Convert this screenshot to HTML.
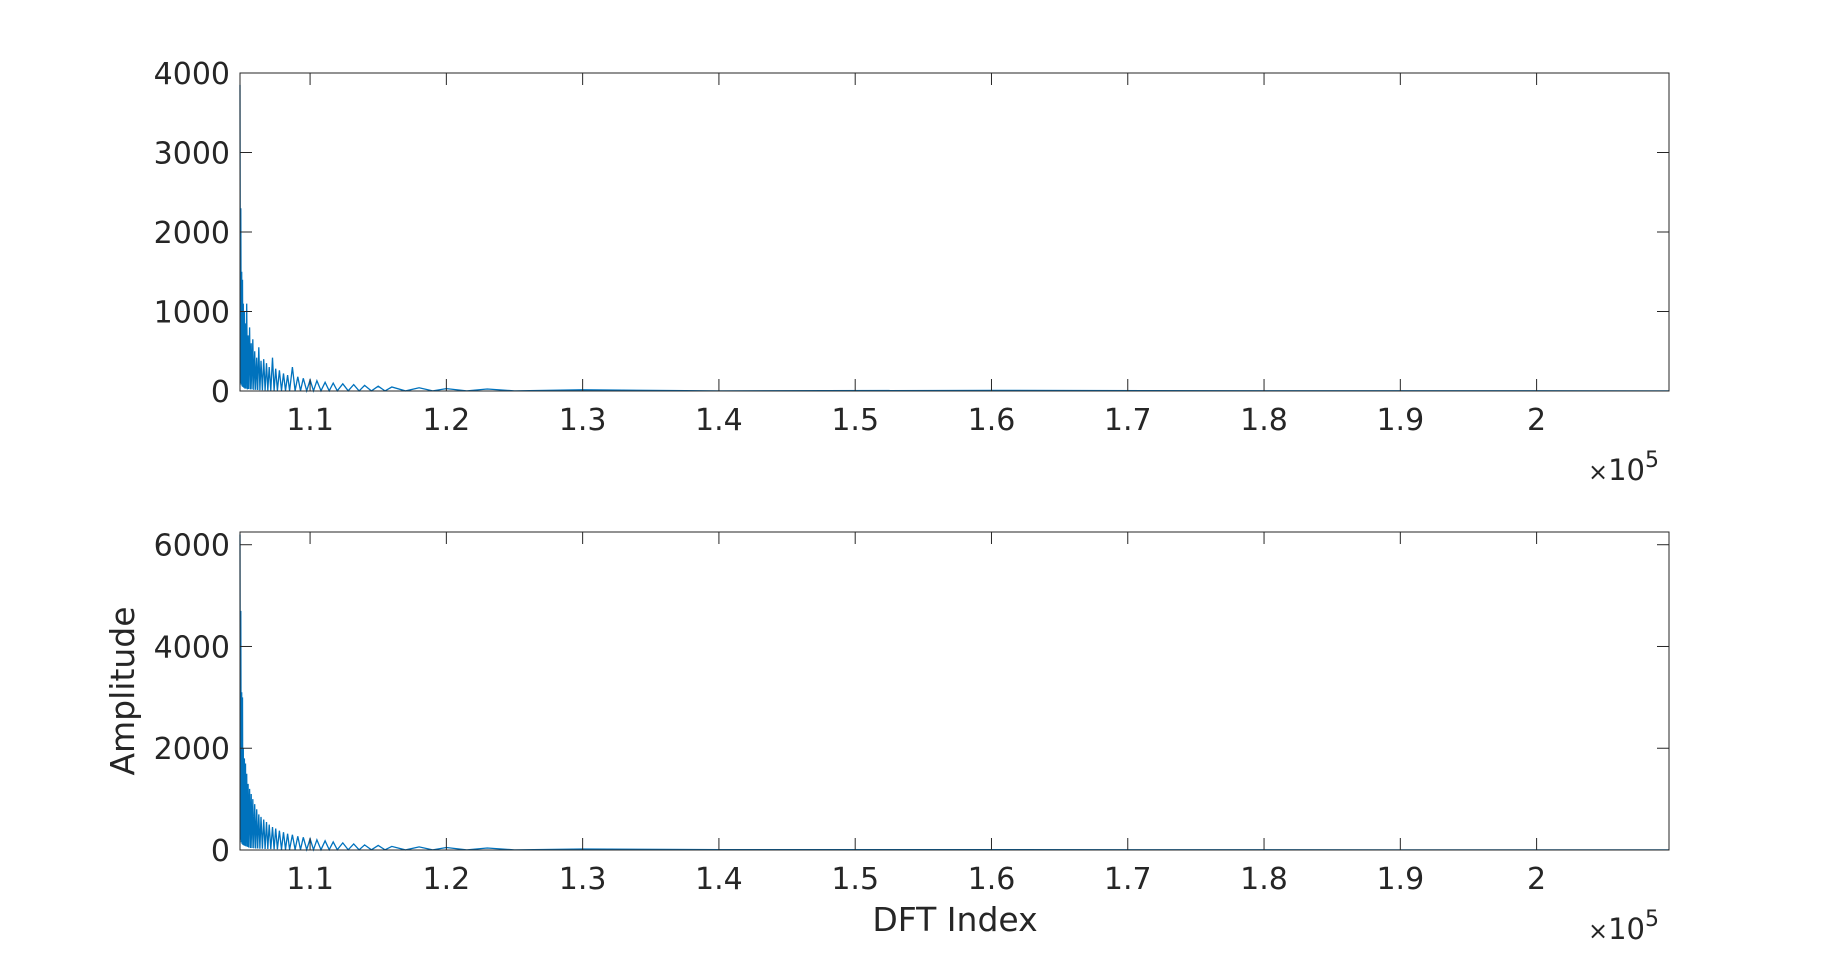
<!DOCTYPE html>
<html><head><meta charset="utf-8"><title>DFT Amplitude</title>
<style>
body{margin:0;background:#fff;}
svg{display:block;font-family:"DejaVu Sans","Liberation Sans",sans-serif;}
</style></head>
<body>
<svg id="chart" width="1845" height="968" viewBox="0 0 1845 968" xmlns="http://www.w3.org/2000/svg"></svg>
<script>
// ---- data (x in DFT index units) ----
const xTicks = [1.1e5,1.2e5,1.3e5,1.4e5,1.5e5,1.6e5,1.7e5,1.8e5,1.9e5,2.0e5];
const xTickLabels = ["1.1","1.2","1.3","1.4","1.5","1.6","1.7","1.8","1.9","2"];
const topYTicks = [0,1000,2000,3000,4000];
const botYTicks = [0,2000,4000,6000];
const dftIndex = [104858,104890,104920,104950,104980,105010,105040,105070,105100,105140,105180,105220,105260,105300,105350,105400,105450,105500,105560,105620,105680,105740,105800,105870,105940,106010,106080,106160,106240,106320,106400,106500,106600,106700,106800,106900,107000,107120,107240,107360,107480,107600,107750,107900,108050,108200,108350,108500,108700,108900,109100,109300,109500,109750,110000,110250,110500,110800,111100,111400,111700,112000,112400,112800,113200,113600,114000,114500,115000,115500,116000,117000,118000,119000,120000,121500,123000,125000,130000,140000,160000,180000,200000,209715];
const topAmp = [3850,100,2300,80,1500,60,1400,50,1100,40,1000,30,850,30,1100,20,700,25,800,20,600,20,650,15,500,15,420,12,550,10,380,10,400,8,350,8,300,6,420,6,280,5,260,5,220,4,200,4,300,3,180,3,160,3,140,2,130,2,110,2,100,2,90,2,80,1,70,1,60,1,50,1,40,1,30,1,25,1,15,1,8,3,2,1];
const botAmp = [6200,200,4700,150,3100,120,3000,100,2000,90,1800,80,1700,70,1500,60,1300,50,1200,40,1100,40,1000,35,900,30,800,30,700,25,650,25,600,20,550,20,500,18,450,15,420,15,380,12,350,12,320,10,300,10,270,8,250,8,220,6,200,6,180,5,160,5,140,4,120,4,100,3,90,3,70,2,60,2,50,2,40,1,20,8,5,3,2,1];

const NS="http://www.w3.org/2000/svg";
const svg=document.getElementById('chart');
const X0=240,X1=1669,xmin=104858,xmax=209715;
const xs=v=>X0+(v-xmin)/(xmax-xmin)*(X1-X0);
function el(t,a,p){const e=document.createElementNS(NS,t);for(const k in a)e.setAttribute(k,a[k]);(p||svg).appendChild(e);return e;}

function panel(name,top,bot,ymax,yTicks,amp){
  const ys=v=>bot-(v/ymax)*(bot-top);
  const g=el('g',{});
  
  
  const pts=dftIndex.map((d,i)=>xs(d).toFixed(1)+','+ys(amp[i]).toFixed(1)).join(' ');
  const line=el('polyline',{points:pts,fill:'none',stroke:'#0072BD','stroke-width':1.3},g);
  
  
  const box=el('rect',{x:X0,y:top,width:X1-X0,height:bot-top,fill:'none',stroke:'#262626','stroke-width':1},g);
  
  
  xTicks.forEach((t,i)=>{
    const x=xs(t);
    el('line',{x1:x,y1:bot,x2:x,y2:bot-12,stroke:'#262626'},g);
    el('line',{x1:x,y1:top,x2:x,y2:top+12,stroke:'#262626'},g);
    const tx=el('text',{x:x,y:bot+39,'text-anchor':'middle','font-size':30,fill:'#262626'},g);
    tx.textContent=xTickLabels[i];
    
    
  });
  yTicks.forEach(t=>{
    const y=ys(t);
    el('line',{x1:X0,y1:y,x2:X0+12,y2:y,stroke:'#262626'},g);
    el('line',{x1:X1,y1:y,x2:X1-12,y2:y,stroke:'#262626'},g);
    const tx=el('text',{x:X0-10,y:y+11,'text-anchor':'end','font-size':30,fill:'#262626'},g);
    tx.textContent=t;
    
    
  });
  const ex=el('text',{x:1588,y:bot+89,'font-size':29,fill:'#262626'},g);
  ex.innerHTML='<tspan font-size="24">×</tspan>10<tspan dy="-13" font-size="22">5</tspan>';
  
  
}
panel('top-panel',73,391,4000,topYTicks,topAmp);
panel('bottom-panel',532,850,6250,botYTicks,botAmp);

const yl=el('text',{x:0,y:0,'text-anchor':'middle','font-size':33,fill:'#262626',transform:'translate(134,691) rotate(-90)'});
yl.textContent='Amplitude';


const xl=el('text',{x:955,y:931,'text-anchor':'middle','font-size':33,fill:'#262626'});
xl.textContent='DFT Index';


</script>
</body></html>
